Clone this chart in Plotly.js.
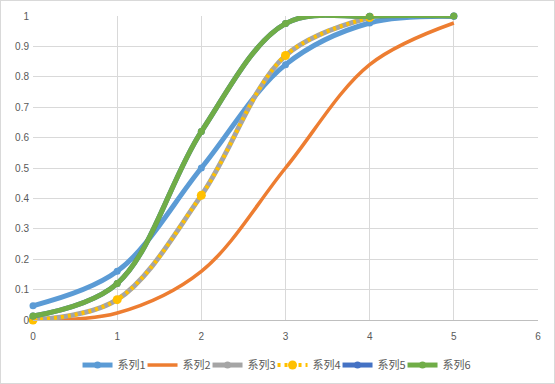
<!DOCTYPE html>
<html><head><meta charset="utf-8">
<script src="https://cdn.plot.ly/plotly-3.0.1.min.js"></script>
<style>html,body{margin:0;padding:0;background:#fff}#wrap{width:555px;height:384px;box-sizing:border-box;border:1px solid #d9d9d9}#c{width:553px;height:382px}</style>
</head><body><div id="wrap"><div id="c"></div></div>
<script>
const names = ["系列1","系列2","系列3","系列4","系列5","系列6"];
const x1 = [0,1,2,3,4,5];
const y1 = [0.047,0.16,0.5,0.84,0.977,0.999];
const x2 = [0,1,2,3,4,5];
const y2 = [0.0,0.023,0.16,0.5,0.84,0.977];
const x3 = [0,1,2,3,4];
const y3 = [0.0,0.067,0.41,0.87,0.995];
const x4 = [0,1,2,3,4];
const y4 = [0.0,0.067,0.41,0.87,0.995];
const x5 = [0,1,2,3,4,5];
const y5 = [0.013,0.12,0.62,0.975,0.999,1.0];
const x6 = [0,1,2,3,4,5];
const y6 = [0.013,0.12,0.62,0.975,0.999,1.0];
const xTicks = [0,1,2,3,4,5,6];
const yTicks = [0,0.1,0.2,0.3,0.4,0.5,0.6,0.7,0.8,0.9,1];
const yTickText = ["0","0.1","0.2","0.3","0.4","0.5","0.6","0.7","0.8","0.9","1"];

function tr(x,y,name,color,width,dash,msize,showMarker){
  return {x:x,y:y,name:name,type:'scatter',mode: showMarker?'lines+markers':'lines',
    line:{color:color,width:width,shape:'spline',smoothing:1,dash:dash||'solid'},
    marker:{color:color,size:msize,symbol:'circle'},cliponaxis:false};
}
const data = [
  tr(x1,y1,names[0],'#5b9bd5',5,'solid',7,true),
  tr(x2,y2,names[1],'#ed7d31',3.5,'solid',7,false),
  tr(x3,y3,names[2],'#a5a5a5',5,'solid',7,true),
  tr(x4,y4,names[3],'#ffc000',4,'3px,4px',9,true),
  tr(x5,y5,names[4],'#4472c4',5,'solid',7,true),
  tr(x6,y6,names[5],'#70ad47',5,'solid',7,true)
];
const tickFont = {family:'Liberation Sans, Arial, sans-serif',size:10,color:'#595959'};
const layout = {
  width:553,height:382,
  margin:{l:32,r:16,t:15,b:63},
  paper_bgcolor:'#fff',plot_bgcolor:'#fff',
  showlegend:true,
  legend:{orientation:'h',x:0.491,xanchor:'center',xref:'container',y:0.085,yanchor:'top',yref:'container',entrywidth:20,
    font:{family:'Noto Sans CJK SC, sans-serif',size:11,color:'#595959'},itemwidth:30,tracegroupgap:0},
  xaxis:{range:[0,6],tickvals:xTicks,ticktext:xTicks.map(String),showgrid:true,gridcolor:'#d9d9d9',gridwidth:1,
    zeroline:false,showline:true,linecolor:'#bfbfbf',ticks:'',tickfont:tickFont,fixedrange:true,automargin:false,ticklabelstandoff:7},
  yaxis:{range:[0,1],tickvals:yTicks,ticktext:yTickText,showgrid:true,gridcolor:'#d9d9d9',gridwidth:1,
    zeroline:false,showline:false,ticks:'',tickfont:tickFont,fixedrange:true,automargin:false,ticklabelstandoff:3},
};
Plotly.newPlot('c',data,layout,{displayModeBar:false,staticPlot:true}).then(function(){
  document.querySelectorAll('#c .legend, #c .legend .scrollbox').forEach(function(e){e.removeAttribute('clip-path');});
});
</script></body></html>
